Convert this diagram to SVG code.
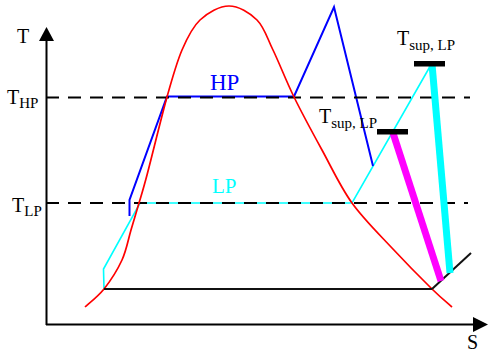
<svg xmlns="http://www.w3.org/2000/svg" width="488" height="354" viewBox="0 0 488 354">
<style>
.lbl{font-family:"Liberation Serif","Times New Roman",serif;fill:#000}
.main{font-size:20px}
.sub{font-size:15px}
.dash{stroke:#000;stroke-width:2;stroke-dasharray:13 9;fill:none}
</style>
<rect width="488" height="354" fill="#fff"/>
<g id="axes" stroke="#000" stroke-width="2" fill="none">
<line x1="46.5" y1="40" x2="46.5" y2="325"/>
<line x1="46" y1="324.5" x2="475" y2="324.5"/>
</g>
<g id="arrowheads" fill="#000">
<polygon points="39,41 46.5,27 54,41"/>
<polygon points="473,317 488,324.5 473,332"/>
</g>
<g id="cyan-thin" fill="none" stroke="#00ffff" stroke-width="1.6">
<polyline points="104,289 103.5,269 140,203 352,203 432,63"/>
</g>
<g id="blue-cycle" fill="none" stroke="#0000ff" stroke-width="2">
<polyline points="129.5,216 129.5,200 167,96.5 294,96.5 334,7 373,166"/>
</g>
<g id="dashed-levels">
<line class="dash" x1="46" y1="97.5" x2="470" y2="97.5"/>
<line class="dash" x1="46" y1="203" x2="468" y2="203"/>
</g>
<g id="dome">
<path fill="none" stroke="#ff0000" stroke-width="1.7" d="M85,307 C88.2,304 97.8,296.8 104,289 C110.2,281.2 117.5,269.8 122,260 C126.5,250.2 128.2,239.5 131,230 C133.8,220.5 136.3,212.2 139,203 C141.7,193.8 142.3,192.7 147,175 C151.7,157.3 161.2,117.8 167,97 C172.8,76.2 176.5,62.8 182,50 C187.5,37.2 192.2,27.3 200,20 C207.8,12.7 219.5,6 229,6 C238.5,6 249.7,12.7 257,20 C264.3,27.3 266.8,37.2 273,50 C279.2,62.8 285.8,80.3 294,97 C302.2,113.7 312.3,132.3 322,150 C331.7,167.7 340.3,186.7 352,203 C363.7,219.3 378.7,233.7 392,248 C405.3,262.3 422,279.2 432,289 C442,298.8 448.7,304 452,307"/>
</g>
<g id="base-line" stroke="#111" stroke-width="2" fill="none">
<line x1="104" y1="289" x2="432" y2="289"/>
<line x1="432" y1="289" x2="471" y2="253"/>
</g>
<g id="magenta-expansion">
<line x1="393" y1="133" x2="441" y2="281" stroke="#ff00ff" stroke-width="7"/>
</g>
<g id="cyan-expansion">
<line x1="432" y1="64" x2="450" y2="273" stroke="#00ffff" stroke-width="7"/>
</g>
<g id="bars" fill="#000">
<rect x="414" y="61" width="31" height="5.5"/>
<rect x="377" y="129" width="31" height="5.5"/>
</g>
<g id="labels">
<text class="lbl main" x="17" y="43">T</text>
<text class="lbl" x="7" y="104"><tspan class="main">T</tspan><tspan class="sub" dy="4">HP</tspan></text>
<text class="lbl" x="12" y="212"><tspan class="main">T</tspan><tspan class="sub" dy="4">LP</tspan></text>
<text class="lbl" x="397" y="45"><tspan class="main">T</tspan><tspan class="sub" dy="5">sup, LP</tspan></text>
<text class="lbl" x="319" y="123"><tspan class="main">T</tspan><tspan class="sub" dy="5">sup, LP</tspan></text>
<text class="lbl" x="210" y="90" style="font-size:23px;fill:#0000ff">HP</text>
<text class="lbl" x="212" y="193" style="font-size:21px;fill:#00ffff">LP</text>
<text class="lbl" x="467" y="349" style="font-size:20px">S</text>
</g>
</svg>
